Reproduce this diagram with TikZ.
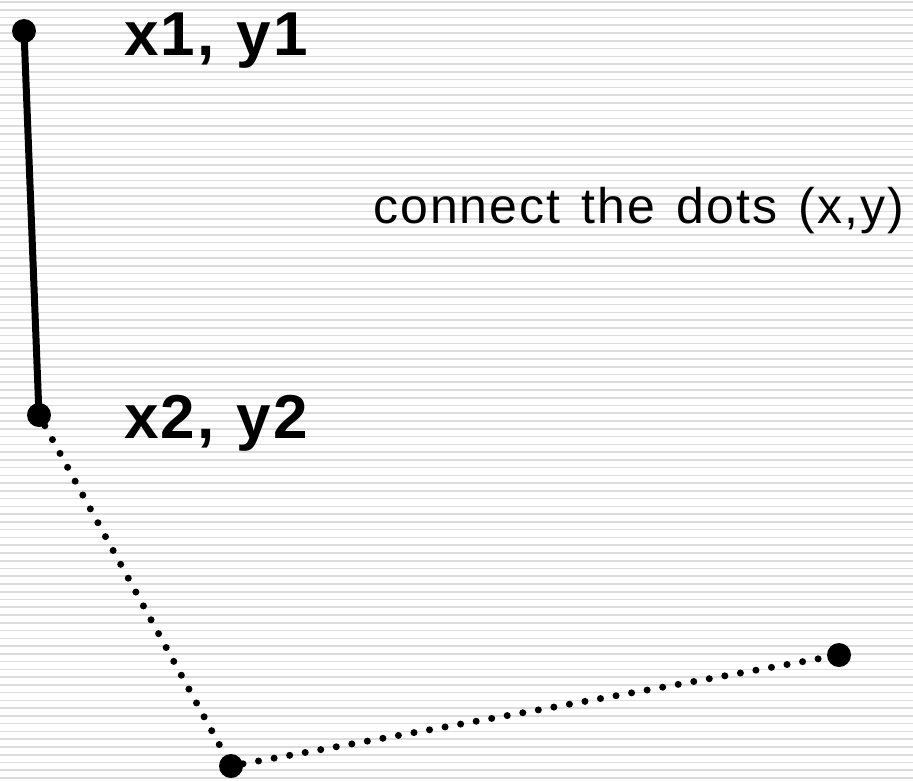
\documentclass[tikz,border=0pt]{standalone}
\usepackage{fontspec}
\setmainfont{Liberation Sans}
\usepackage{tikz}
\usetikzlibrary{positioning}
\definecolor{stripe}{HTML}{DCDCDC}
\newfontfamily\lblfont[LetterSpace=3.7,WordSpace=1.1]{Liberation Sans}
\newfontfamily\notefont[LetterSpace=4.0,WordSpace=1.35]{Liberation Sans}

\begin{document}
\begin{tikzpicture}[x=1pt,y=-1pt,
  dot/.style={circle,fill=black,inner sep=0pt,minimum size=24pt},
  lbl/.style={anchor=base west,inner sep=0pt,font=\lblfont\fontsize{62}{62}\selectfont\bfseries},
  note/.style={anchor=base west,inner sep=0pt,font=\notefont\fontsize{50}{50}\selectfont},
  solidline/.style={line width=7pt},
  dotline/.style={line width=7pt,line cap=round,dash pattern=on 0pt off 15.8pt}]
  % striped background
  \useasboundingbox (0,0) rectangle (913,780);
  \fill[white] (0,0) rectangle (913,780);
  \foreach \k in {0,...,100}
    \draw[stripe,line width=1.6pt] (0,{2+7.76*\k}) -- (913,{2+7.76*\k});
  % the dots
  \node[dot] (p1) at (24,31) {};
  \node[dot] (p2) at (39,415) {};
  \node[dot] (p3) at (231,766) {};
  \node[dot] (p4) at (839,655) {};
  % labels
  \node[lbl] (l1) at (124,55) {x1, y1};
  \node[lbl] (l2) at (124,438) {x2, y2};
  \node[note] (cap) at (373,223) {connect the dots (x,y)};
  % connections
  \draw[solidline] (p1.center) -- (p2.center);
  \draw[dotline] (p2) -- (p3);
  \draw[dotline] (p3) -- (p4);
\end{tikzpicture}
\end{document}
